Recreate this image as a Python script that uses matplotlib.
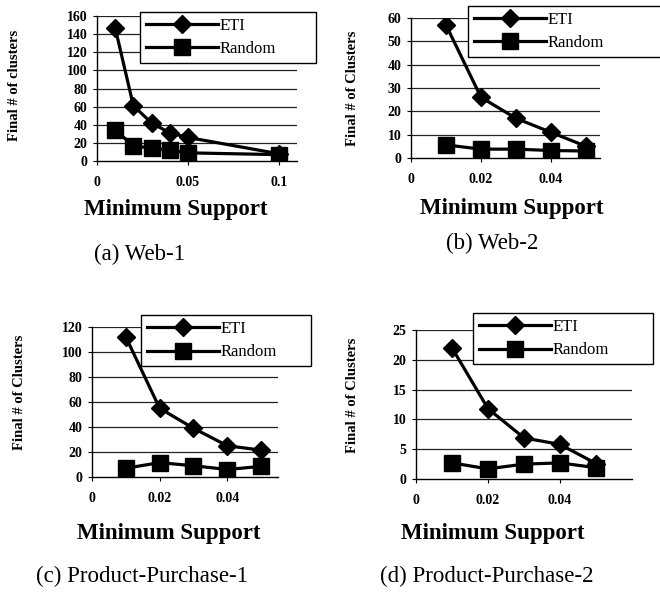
import matplotlib
matplotlib.use('Agg')
import matplotlib.pyplot as plt

# minimum support values on the x axis
support_a = [0.01, 0.02, 0.03, 0.04, 0.05, 0.1]
support = [0.01, 0.02, 0.03, 0.04, 0.05]

# final number of clusters
eti_a = [147, 61, 42, 31, 26, 8]
rnd_a = [34, 17, 14, 12, 9, 7]
eti_b = [57, 26, 17, 11, 5]
rnd_b = [5.6, 3.8, 3.8, 3.2, 3]
eti_c = [112, 55, 39, 25, 21.5]
rnd_c = [7, 11.5, 9, 6, 8.5]
eti_d = [22, 11.8, 6.9, 5.8, 2.6]
rnd_d = [2.7, 1.7, 2.5, 2.7, 1.9]

series_names = ['ETI', 'Random']
captions = ['(a) Web-1', '(b) Web-2', '(c) Product-Purchase-1', '(d) Product-Purchase-2']
ylabels = ['Final # of clusters', 'Final # of Clusters', 'Final # of Clusters', 'Final # of Clusters']
xticks_a = [0, 0.05, 0.1]
xticklabels_a = ['0', '0.05', '0.1']
xticks = [0, 0.02, 0.04]
xticklabels = ['0', '0.02', '0.04']

W, H = 660, 593
plt.rcParams['font.family'] = ['Liberation Serif', 'DejaVu Serif']
fig = plt.figure(figsize=(6.6, 5.93), dpi=100)


def px(x0, y0, x1, y1):
    # pixel box (top-left origin) -> figure fraction rect
    return [x0 / W, 1 - y1 / H, (x1 - x0) / W, (y1 - y0) / H]


panels = [
    dict(rect=px(97, 16, 297, 161), x=support_a, eti=eti_a, rnd=rnd_a, ymax=160, ystep=20,
         xlim=0.11, xt=xticks_a, xtl=xticklabels_a,
         leg=(140, 12, 316, 70), ylab=(15, 85), xlab=(176, 209), cap=(140, 254)),
    dict(rect=px(411, 18, 600, 158), x=support, eti=eti_b, rnd=rnd_b, ymax=60, ystep=10,
         xlim=0.054, xt=xticks, xtl=xticklabels,
         leg=(468, 6, 665, 51), ylab=(352, 88), xlab=(512, 208), cap=(492, 243)),
    dict(rect=px(92, 327, 278, 477), x=support, eti=eti_c, rnd=rnd_c, ymax=120, ystep=20,
         xlim=0.055, xt=xticks, xtl=xticklabels,
         leg=(141, 315, 311, 362), ylab=(20, 392), xlab=(169, 534), cap=(142, 576)),
    dict(rect=px(416, 330, 632, 479), x=support, eti=eti_d, rnd=rnd_d, ymax=25, ystep=5,
         xlim=0.06, xt=xticks, xtl=xticklabels,
         leg=(473, 313, 653, 361), ylab=(352, 395), xlab=(493, 534), cap=(487, 576)),
]

for i, p in enumerate(panels):
    ax = fig.add_axes(p['rect'])
    yt = list(range(0, p['ymax'] + 1, p['ystep']))
    for yv in yt[1:]:
        ax.axhline(yv, color='#222222', lw=0.9, zorder=0)
    ax.plot(p['x'], p['eti'], color='black', lw=2.3, marker='D', ms=9,
            label=series_names[0], zorder=3)
    ax.plot(p['x'], p['rnd'], color='black', lw=2.3, marker='s', ms=11,
            label=series_names[1], zorder=3)
    ax.set_xlim(0, p['xlim'])
    ax.set_ylim(0, p['ymax'])
    ax.set_yticks(yt)
    ax.set_xticks(p['xt'])
    ax.set_xticklabels(p['xtl'])
    for s in ['top', 'right']:
        ax.spines[s].set_visible(False)
    ax.spines['left'].set_linewidth(1.0)
    ax.spines['bottom'].set_linewidth(1.0)
    ax.tick_params(direction='out', length=3, width=0.8, labelsize=10, pad=4)
    for lab in ax.get_xticklabels() + ax.get_yticklabels():
        lab.set_fontweight('bold')
    ax.tick_params(axis='x', pad=8)

    lx0, ly0, lx1, ly1 = p['leg']
    leg = ax.legend(loc='upper left', bbox_to_anchor=(lx0 / W, 1 - ly0 / H, (lx1 - lx0) / W, 0),
                    bbox_transform=fig.transFigure, mode='expand', fancybox=False,
                    framealpha=1, edgecolor='black', fontsize=12, handlelength=4.3,
                    handletextpad=0.1, labelspacing=0.45, borderpad=0.35, borderaxespad=0,
                    markerscale=1.0)
    leg.get_frame().set_linewidth(1.0)

    fig.text(p['ylab'][0] / W, 1 - p['ylab'][1] / H, ylabels[i], rotation=90,
             ha='center', va='center', fontsize=10.5, fontweight='bold')
    fig.text(p['xlab'][0] / W, 1 - p['xlab'][1] / H, 'Minimum Support',
             ha='center', va='center', fontsize=16.5, fontweight='bold')
    fig.text(p['cap'][0] / W, 1 - p['cap'][1] / H, captions[i],
             ha='center', va='center', fontsize=16.5)

fig.savefig('out.png', dpi=100)
